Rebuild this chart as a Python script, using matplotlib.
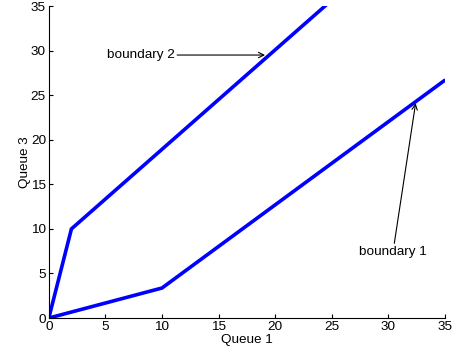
import matplotlib
matplotlib.use("Agg")
import matplotlib.pyplot as plt

plt.rcParams['font.family'] = ['Liberation Sans', 'DejaVu Sans']

# boundary curves (Queue 1 vs Queue 3)
b2_x = [0, 2, 24.4]
b2_y = [0, 10, 35]
b1_x = [0, 10, 34.9]
b1_y = [0, 3.37, 26.6]

xticks = [0, 5, 10, 15, 20, 25, 30, 35]
yticks = [0, 5, 10, 15, 20, 25, 30, 35]

fig = plt.figure(figsize=(4.56, 3.53), dpi=100)
ax = fig.add_axes([0.107, 0.099, 0.869, 0.884])

ax.plot(b2_x, b2_y, color='#0000ff', lw=2.6, solid_joinstyle='miter')
ax.plot(b1_x, b1_y, color='#0000ff', lw=2.6, solid_joinstyle='miter')

ax.set_xlim(0, 35)
ax.set_ylim(0, 35)
ax.set_xticks(xticks)
ax.set_yticks(yticks)
ax.tick_params(direction='in', length=3, labelsize=9.7, pad=2)
for s in ['top', 'right']:
    ax.spines[s].set_visible(False)

ax.set_xlabel('Queue 1', fontsize=9.7, labelpad=1)
ax.set_ylabel('Queue 3', fontsize=9.7, labelpad=0)

arrow = dict(arrowstyle='->', color='black', lw=0.8, shrinkA=0, shrinkB=0)
ax.annotate('boundary 2', xy=(19.1, 29.5), xytext=(5.1, 29.5),
            fontsize=9.7, va='center', ha='left', arrowprops=arrow)
ax.annotate('boundary 1', xy=(32.4, 24.1), xytext=(30.4, 7.4),
            fontsize=9.7, va='center', ha='center', arrowprops=arrow)

fig.savefig('out.png', dpi=100)
